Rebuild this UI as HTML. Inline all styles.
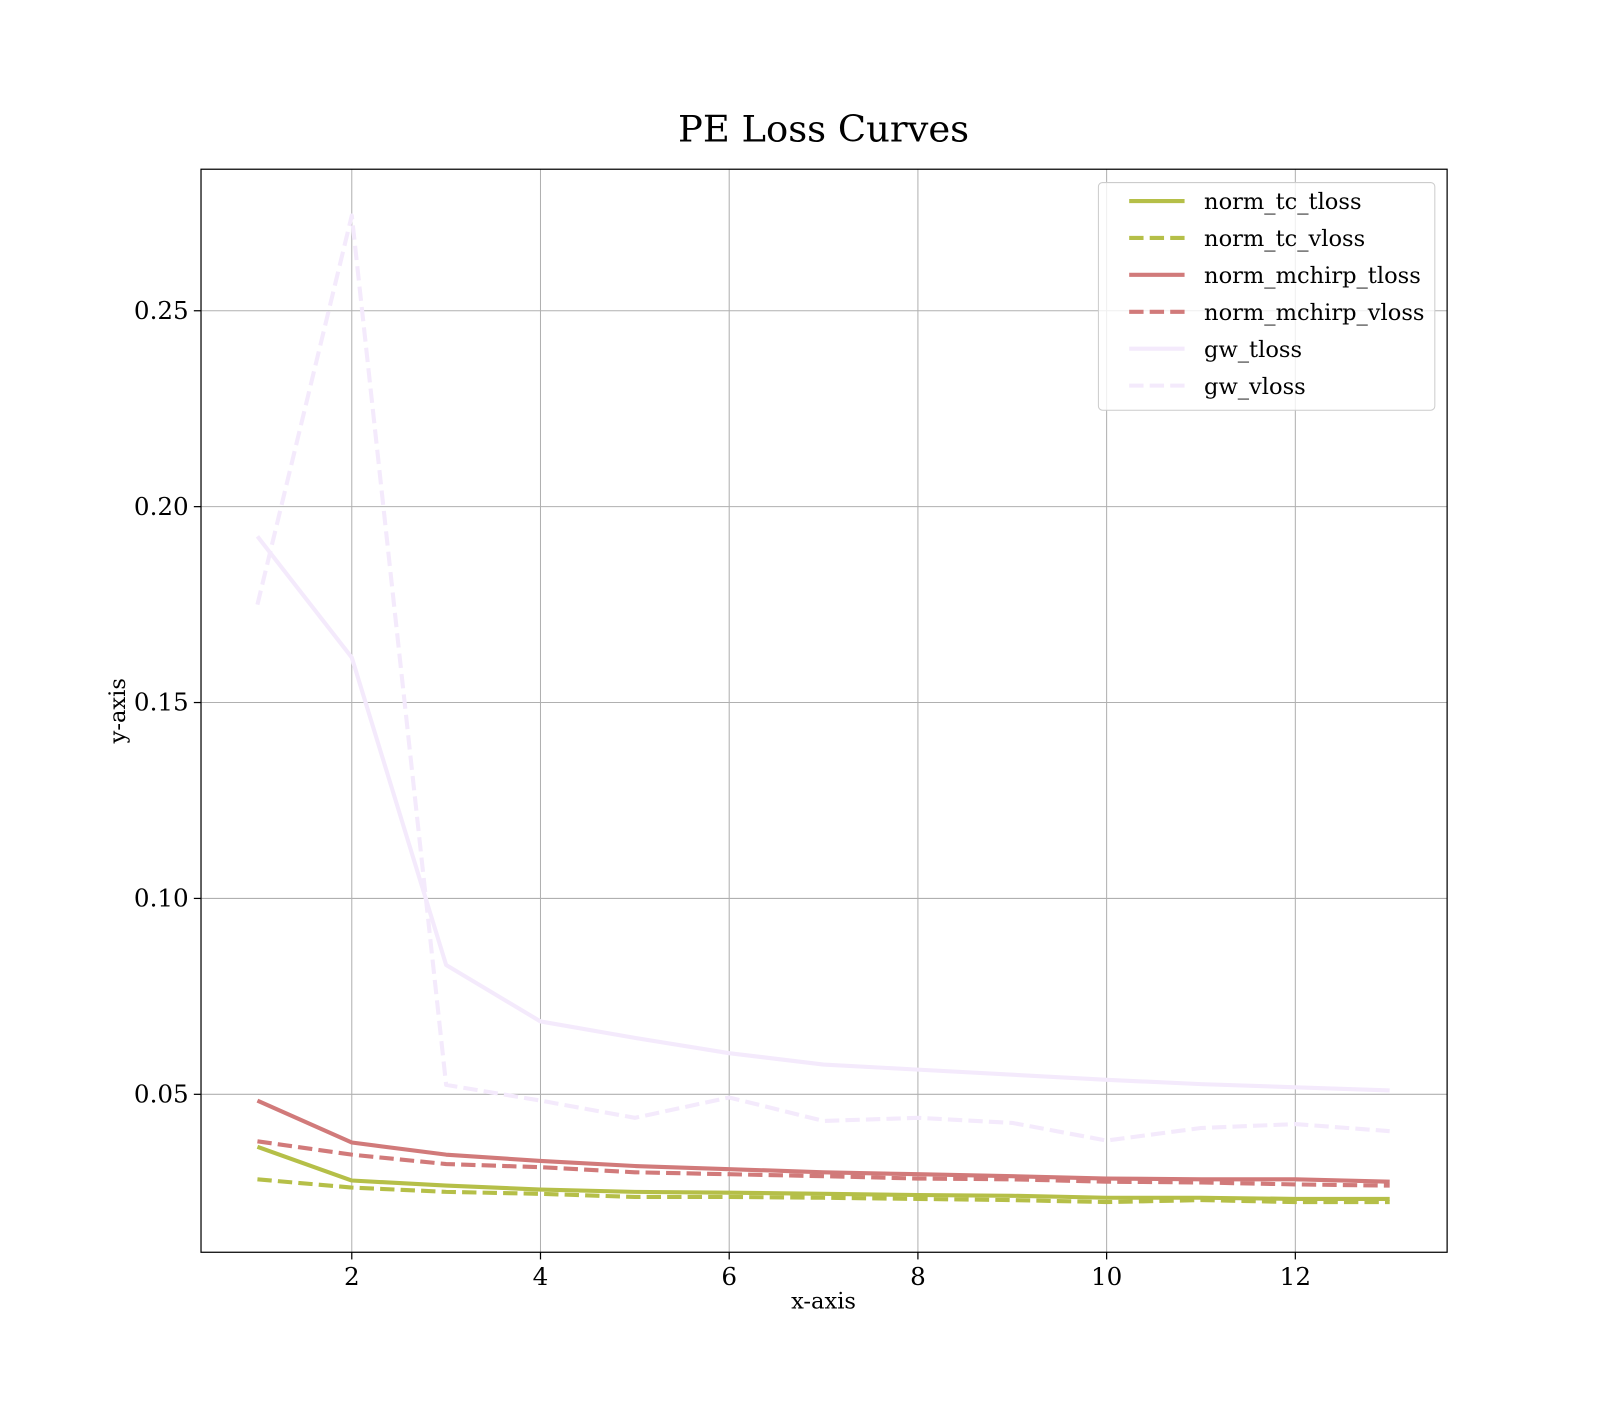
<!DOCTYPE html>
<html><head><meta charset="utf-8"><style>
body{margin:0;background:#fff}
svg text{font-family:"DejaVu Serif","Liberation Serif",serif;fill:#000}
</style></head><body>
<svg id="chart" width="1600" height="1400" xmlns="http://www.w3.org/2000/svg">
<rect width="1600" height="1400" fill="#fff"/>
<g transform="scale(1.0256)">
<text x="803" y="138" font-size="36" text-anchor="middle">PE Loss Curves</text>
<g id="grid"></g>
<g id="lines"></g>
<rect x="196" y="165" width="1215" height="1056" fill="none" stroke="#000" stroke-width="1.2"/>
<g id="ticks"></g>
<text x="803" y="1276" font-size="22" text-anchor="middle">x-axis</text>
<text transform="translate(122,693) rotate(-90)" font-size="22" text-anchor="middle">y-axis</text>
<g id="legend"></g>
</g>
</svg>
<script>
const epochs=[1,2,3,4,5,6,7,8,9,10,11,12,13];
const tcT=[0.0366,0.028,0.0267,0.0257,0.0251,0.0249,0.0246,0.0243,0.0241,0.0236,0.0236,0.0233,0.0233];
const tcV=[0.0283,0.0262,0.0251,0.0246,0.0238,0.0238,0.0236,0.0233,0.023,0.0225,0.023,0.0225,0.0225];
const mcT=[0.0484,0.0377,0.0346,0.033,0.0317,0.0309,0.0301,0.0296,0.0291,0.0285,0.0283,0.0283,0.0277];
const mcV=[0.038,0.0346,0.0322,0.0314,0.0301,0.0296,0.0291,0.0285,0.0283,0.0277,0.0275,0.027,0.0267];
const gwT=[0.1924,0.1615,0.083,0.0686,0.0644,0.0605,0.0576,0.0563,0.055,0.0537,0.0526,0.0518,0.051];
const gwV=[0.175,0.2743,0.0524,0.0484,0.044,0.0492,0.0432,0.044,0.0427,0.0382,0.0414,0.0424,0.0406];
const xTicks=[2,4,6,8,10,12];
const yTicks=[0.05,0.10,0.15,0.20,0.25];
const yTickLabels=["0.05","0.10","0.15","0.20","0.25"];
const X=v=>251+(v-1)*92;
const Y=v=>1258-v*3820;
const NS="http://www.w3.org/2000/svg";
function mk(t,a,p){const e=document.createElementNS(NS,t);for(const k in a)e.setAttribute(k,a[k]);p.appendChild(e);return e;}
const grid=document.getElementById('grid'),ticks=document.getElementById('ticks'),lines=document.getElementById('lines'),leg=document.getElementById('legend');
xTicks.forEach(t=>{
 const g=mk('line',{x1:X(t),x2:X(t),y1:165,y2:1221,stroke:'#b0b0b0','stroke-width':1},grid);
 
 
 const tk=mk('line',{x1:X(t),x2:X(t),y1:1221,y2:1228,stroke:'#000','stroke-width':1.2},ticks);
 
 
 const l=mk('text',{x:X(t),y:1253,'font-size':24,'text-anchor':'middle'},ticks);l.textContent=t;
 
 
});
yTicks.forEach((t,i)=>{
 const g=mk('line',{x1:196,x2:1411,y1:Y(t),y2:Y(t),stroke:'#b0b0b0','stroke-width':1},grid);
 
 
 const tk=mk('line',{x1:189,x2:196,y1:Y(t),y2:Y(t),stroke:'#000','stroke-width':1.2},ticks);
 
 
 const l=mk('text',{x:184,y:Y(t)+8,'font-size':24,'text-anchor':'end'},ticks);l.textContent=yTickLabels[i];
 
 
});
const series=[
 {name:'norm_tc_tloss',d:tcT,c:'#b5bf48',dash:null},
 {name:'norm_tc_vloss',d:tcV,c:'#b5bf48',dash:'14,6'},
 {name:'norm_mchirp_tloss',d:mcT,c:'#d17a7a',dash:null},
 {name:'norm_mchirp_vloss',d:mcV,c:'#d17a7a',dash:'14,6'},
 {name:'gw_tloss',d:gwT,c:'#f4eafc',dash:null},
 {name:'gw_vloss',d:gwV,c:'#f4eafc',dash:'14,6'}];
series.slice().reverse().forEach(s=>{
 const pts=s.d.map((v,i)=>X(epochs[i])+','+Y(v)).join(' ');
 const a={points:pts,fill:'none',stroke:s.c,'stroke-width':4,'stroke-linejoin':'round'};
 if(s.dash)a['stroke-dasharray']=s.dash;
 const p=mk('polyline',a,lines);
 
 
});
const box=mk('rect',{x:1071,y:178,width:328,height:222,rx:4,fill:'#fff','fill-opacity':0.8,stroke:'#ccc','stroke-width':1},leg);


series.forEach((s,i)=>{
 const y=196+i*36;
 const a={x1:1101,x2:1155,y1:y,y2:y,stroke:s.c,'stroke-width':4};
 if(s.dash)a['stroke-dasharray']='14,6';
 const ln=mk('line',a,leg);
 
 
 const t=mk('text',{x:1174,y:y+8,'font-size':22},leg);t.textContent=s.name;
 
 
});
</script>
</body></html>
